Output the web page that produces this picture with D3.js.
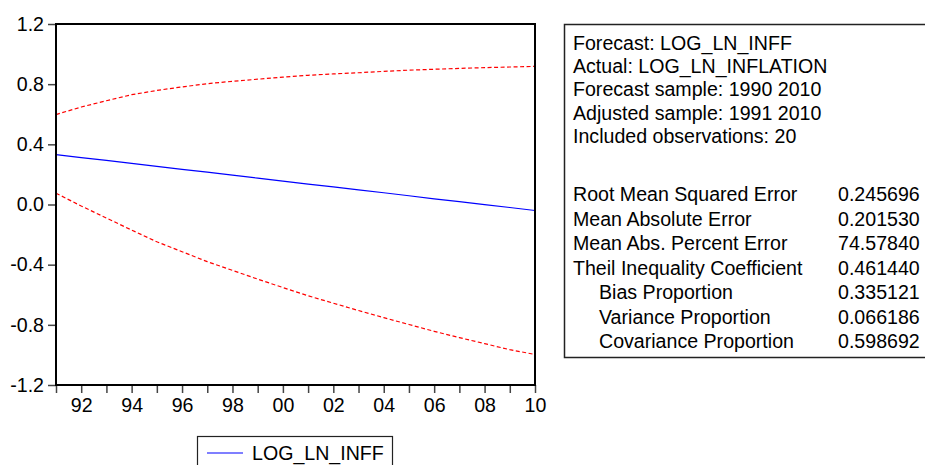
<!DOCTYPE html>
<html><head><meta charset="utf-8">
<script src="https://cdn.jsdelivr.net/npm/d3@7"></script>
<style>
body{margin:0;background:#fff}
svg{display:block}
text{font-family:"Liberation Sans",Arial,sans-serif;fill:#000}
</style>
</head><body>
<svg id="c" width="925" height="465"></svg>
<script>
// ---- data ----
const years = [1991,1992,1993,1994,1995,1996,1997,1998,1999,2000,2001,2002,2003,2004,2005,2006,2007,2008,2009,2010];
const forecast = [0.332,0.312,0.293,0.273,0.254,0.234,0.215,0.195,0.175,0.156,0.136,0.117,0.097,0.078,0.058,0.038,0.019,-0.001,-0.020,-0.040];
const upperBand = [0.598,0.648,0.690,0.730,0.758,0.782,0.803,0.819,0.833,0.847,0.859,0.868,0.876,0.885,0.893,0.899,0.905,0.910,0.914,0.918];
const lowerBand = [0.075,-0.010,-0.090,-0.170,-0.248,-0.314,-0.380,-0.438,-0.496,-0.552,-0.607,-0.656,-0.705,-0.752,-0.798,-0.843,-0.885,-0.925,-0.965,-0.997];
const yTicks = [-1.2,-0.8,-0.4,0.0,0.4,0.8,1.2];
const xLabelYears = [1992,1994,1996,1998,2000,2002,2004,2006,2008,2010];
const infoLines = ["Forecast: LOG_LN_INFF","Actual: LOG_LN_INFLATION","Forecast sample: 1990 2010","Adjusted sample: 1991 2010","Included observations: 20"];
const statNames = ["Root Mean Squared Error","Mean Absolute Error","Mean Abs. Percent Error","Theil Inequality Coefficient","Bias Proportion","Variance Proportion","Covariance Proportion"];
const statIndent = [0,0,0,0,1,1,1];
const statValues = ["0.245696","0.201530","74.57840","0.461440","0.335121","0.066186","0.598692"];
const legendLabel = "LOG_LN_INFF";

// ---- layout ----
const svg = d3.select("#c");
const L = 56, R = 535, T = 24, B = 385;
const FS = 19.6;
const x = d3.scaleLinear().domain([1991,2010]).range([L,R]);
const y = d3.scaleLinear().domain([-1.2,1.2]).range([B,T]);

// axes
const ya = svg.append("g").attr("transform",`translate(${L},0)`)
  .call(d3.axisLeft(y).tickValues(yTicks).tickSize(8).tickPadding(4).tickFormat(d=>d.toFixed(1)));
const xa = svg.append("g").attr("transform",`translate(0,${B})`)
  .call(d3.axisBottom(x).tickValues(years).tickSize(8).tickPadding(5)
    .tickFormat(d=> xLabelYears.includes(d) ? String(d%100).padStart(2,"0") : ""));
[ya,xa].forEach(g=>{
  g.select(".domain").remove();
  g.selectAll(".tick line").attr("stroke","#444").attr("stroke-width",1.5);
  g.selectAll(".tick text").attr("font-size",FS).attr("font-family","Liberation Sans, Arial, sans-serif").attr("fill","#000");
});

// series
const line = d3.line().x((d,i)=>x(years[i])).y(d=>y(d));
svg.append("path").datum(upperBand).attr("d",line).attr("fill","none")
  .attr("stroke","#ff0000").attr("stroke-width",1.2).attr("stroke-dasharray","4,2.5");
svg.append("path").datum(lowerBand).attr("d",line).attr("fill","none")
  .attr("stroke","#ff0000").attr("stroke-width",1.2).attr("stroke-dasharray","4,2.5");
svg.append("path").datum(forecast).attr("d",line).attr("fill","none")
  .attr("stroke","#0000ff").attr("stroke-width",1.2);

// frame
svg.append("rect").attr("x",L).attr("y",T).attr("width",R-L).attr("height",B-T)
  .attr("fill","none").attr("stroke","#000").attr("stroke-width",2);

// stats box
svg.append("rect").attr("x",564.5).attr("y",24.5).attr("width",420).attr("height",333)
  .attr("fill","none").attr("stroke","#222").attr("stroke-width",1.5);
const tx = 573, vx = 838;
infoLines.forEach((s,i)=>{
  svg.append("text").attr("x",tx).attr("y",50+i*23.2).attr("font-size",FS).text(s);
});
statNames.forEach((s,i)=>{
  const yy = 201 + i*24.5;
  svg.append("text").attr("x",tx + statIndent[i]*26).attr("y",yy).attr("font-size",FS).text(s);
  svg.append("text").attr("x",vx).attr("y",yy).attr("font-size",FS).text(statValues[i]);
});

// legend
svg.append("rect").attr("x",197.5).attr("y",436.5).attr("width",195).attr("height",40)
  .attr("fill","none").attr("stroke","#222").attr("stroke-width",1.2);
svg.append("line").attr("x1",207).attr("x2",243).attr("y1",453).attr("y2",453)
  .attr("stroke","#0000ff").attr("stroke-width",1.2);
svg.append("text").attr("x",252).attr("y",460).attr("font-size",FS).text(legendLabel);
</script>
</body></html>
